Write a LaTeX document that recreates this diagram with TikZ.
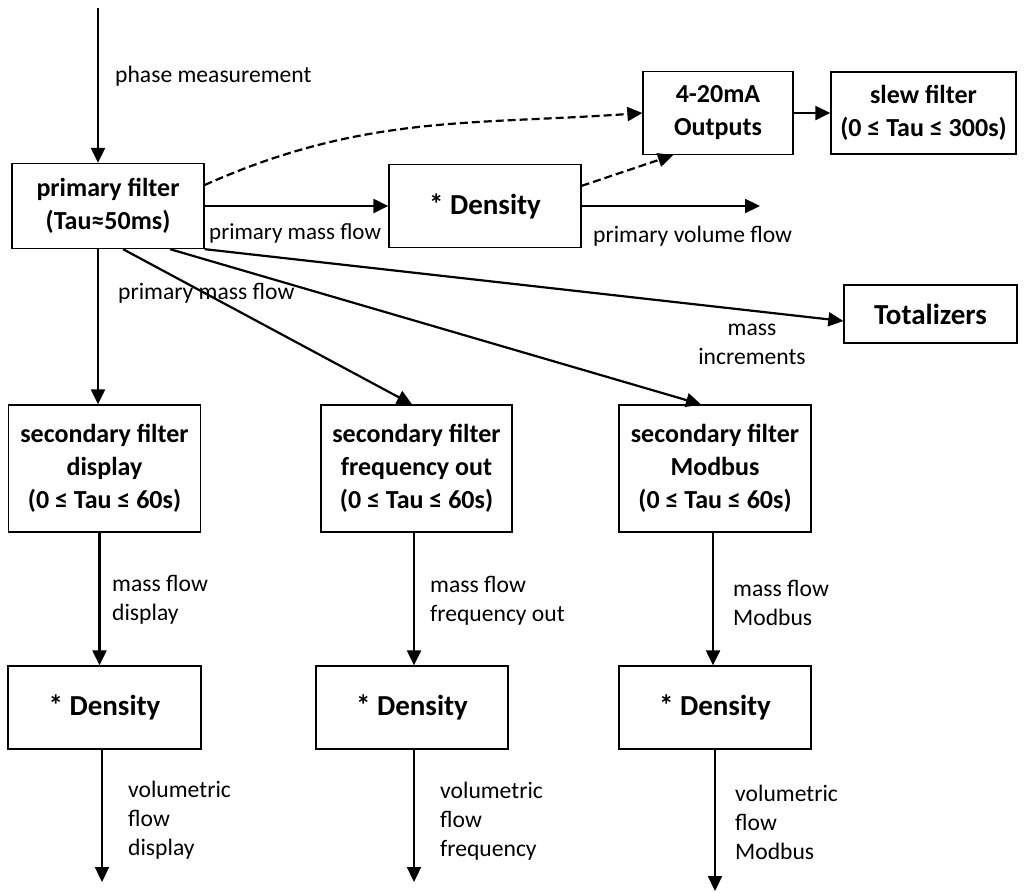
\documentclass[tikz,border=0pt]{standalone}
\usepackage{fontspec}
\setmainfont{Carlito}
\usetikzlibrary{arrows.meta}
\tikzset{
  blk/.style={draw,line width=1.3pt,align=center,inner sep=0pt,font=\bfseries\fontsize{26}{33}\selectfont},
  bigblk/.style={blk,font=\bfseries\fontsize{29}{35}\selectfont},
  lbl/.style={inner sep=0pt,anchor=west,align=left,font=\fontsize{23.6}{29}\selectfont},
  flow/.style={line width=2.2pt,-{Triangle[length=15pt,width=14pt]}},
  dflow/.style={flow,dash pattern=on 8pt off 4pt}
}

\begin{document}
\begin{tikzpicture}[x=1pt,y=-1pt]
\useasboundingbox (0,0) rectangle (1025,892);

\coordinate (in) at (98,8);
\coordinate (pvf) at (760,206);
\coordinate (odd) at (102,882);
\coordinate (odf) at (414,882);
\coordinate (odm) at (715,891);

\node[blk,minimum width=192pt,minimum height=85pt] (pf) at (108,206) {primary filter\\(Tau≈50ms)};
\node[bigblk,minimum width=192pt,minimum height=83pt] (dens) at (485,206) {* Density};
\node[blk,minimum width=150pt,minimum height=83pt] (ma) at (718,113) {4-20mA\\Outputs};
\node[blk,minimum width=185pt,minimum height=82pt] (slew) at (923.5,113) {slew filter\\(0 ≤ Tau ≤ 300s)};
\node[bigblk,minimum width=173pt,minimum height=58pt] (tot) at (930.5,314) {Totalizers};

\node[blk,minimum width=192pt,minimum height=127pt] (sd) at (104.5,468.5) {secondary filter\\display\\(0 ≤ Tau ≤ 60s)};
\node[blk,minimum width=191pt,minimum height=127pt] (sf) at (416.5,468.5) {secondary filter\\frequency out\\(0 ≤ Tau ≤ 60s)};
\node[blk,minimum width=192pt,minimum height=127pt] (sm) at (715,468.5) {secondary filter\\Modbus\\(0 ≤ Tau ≤ 60s)};

\node[bigblk,minimum width=193pt,minimum height=83pt] (dd) at (104.5,707.5) {* Density};
\node[bigblk,minimum width=192pt,minimum height=83pt] (df) at (412,707.5) {* Density};
\node[bigblk,minimum width=192pt,minimum height=83pt] (dm) at (715,707.5) {* Density};

\draw[flow] (in) -- (in |- pf.north);
\draw[flow] (pf.east) -- (dens.west);
\draw[flow] (dens.east) -- (pvf);
\draw[dflow] ([yshift=21pt]pf.east) to[out=24,in=184] (ma.west);
\draw[dflow] ([yshift=-22pt]dens.north east) -- ([xshift=-45pt]ma.south);
\draw[flow] (ma.east) -- (slew.west);
\draw[flow] (pf.south east) -- ([yshift=-7pt]tot.west);

\draw[flow] (pf.south -| in) -- (sd.north -| in);
\draw[flow] ([xshift=15pt]pf.south) -- ([xshift=-4.5pt]sf.north);
\draw[flow] ([xshift=62pt]pf.south) -- ([xshift=-14pt]sm.north);

\draw[flow] ([xshift=-5pt]sd.south) -- ([xshift=-5pt]dd.north);
\draw[flow] (sf.south -| odf) -- (df.north -| odf);
\draw[flow] ([xshift=-2pt]sm.south) -- ([xshift=-2pt]dm.north);

\draw[flow] (dd.south -| odd) -- (odd);
\draw[flow] (df.south -| odf) -- (odf);
\draw[flow] (dm.south -| odm) -- (odm);

\node[lbl] (lphase) at (115,76) {phase measurement};
\node[lbl,font=\fontsize{23}{29}\selectfont] (lpmf) at (209,233) {primary mass flow};
\node[lbl] (lpvf) at (593,236) {primary volume flow};
\node[lbl,anchor=center,align=center] (linc) at (752,344.5) {mass\\increments};
\node[lbl] (lpmf2) at (118,293) {primary mass flow};

\node[lbl] (lmd) at (112,599.5) {mass flow\\display};
\node[lbl] (lmf) at (430,601) {mass flow\\frequency out};
\node[lbl] (lmm) at (733,603) {mass flow\\Modbus};

\node[lbl] (lvd) at (128,820.5) {volumetric\\flow\\display};
\node[lbl] (lvf) at (440,821) {volumetric\\flow\\frequency};
\node[lbl] (lvm) at (735,822) {volumetric\\flow\\Modbus};
\end{tikzpicture}
\end{document}
